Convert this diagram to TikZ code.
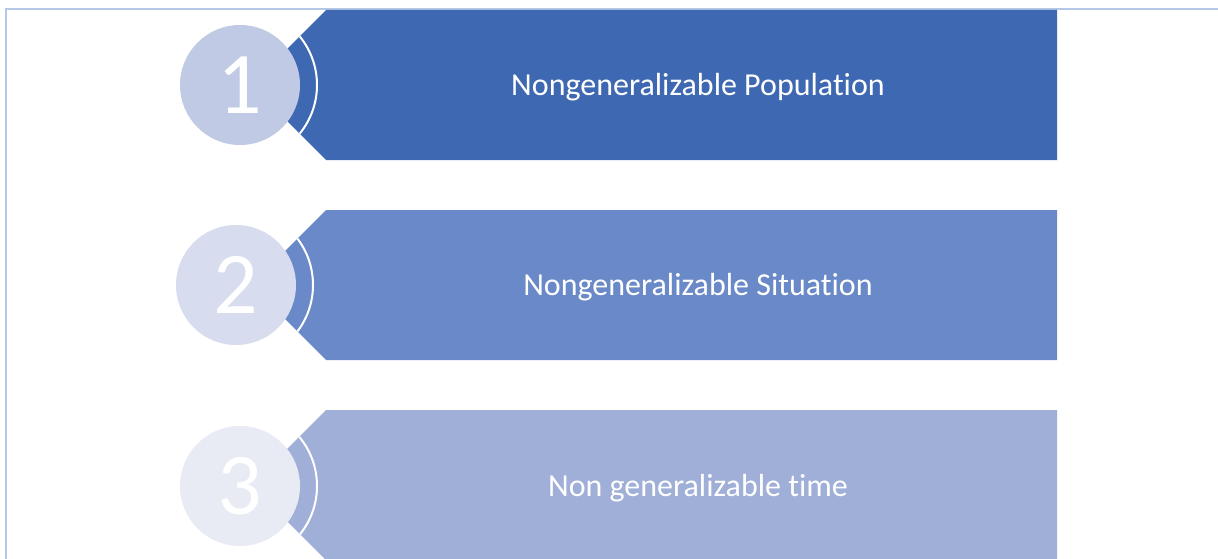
\documentclass[tikz,border=0pt]{standalone}
\usepackage{fontspec}
\setmainfont[Ligatures=NoCommon]{Carlito}
\definecolor{frameblue}{HTML}{B4C7E7}
\definecolor{barA}{HTML}{3E68B1}
\definecolor{barB}{HTML}{6A89C8}
\definecolor{barC}{HTML}{A0AFD8}
\definecolor{circA}{HTML}{C0CAE4}
\definecolor{circB}{HTML}{D7DCEE}
\definecolor{circC}{HTML}{E8EAF4}
\tikzset{
  numcirc/.style={circle, minimum size=120pt, inner sep=0pt, text=white, font=\fontsize{88}{88}\selectfont},
  bartext/.style={text=white, font=\fontsize{32}{38}\selectfont},
  ring/.style={draw=white, line width=2pt},
}
\begin{document}
\begin{tikzpicture}[x=1pt,y=-1pt]
\useasboundingbox (0,0) rectangle (1218,559);
\fill[white] (0,0) rectangle (1218,559);
\draw[frameblue, line width=2.5pt] (6,559) -- (6,9) -- (1218,9);
% row 1
\fill[barA] (326,10) -- (1057,10) -- (1057,160) -- (326,160) -- (251,85) -- cycle;
\begin{scope}
\clip (326,10) -- (1057,10) -- (1057,160) -- (326,160) -- (251,85) -- cycle;
\draw[ring] (240,85) circle[radius=77];
\end{scope}
\node[numcirc, fill=circA] (c1) at (240,85) {1};
\node[bartext] (t1) at (698,87) {Nongeneralizable Population};
% row 2
\fill[barB] (326,210) -- (1057,210) -- (1057,360) -- (326,360) -- (251,285) -- cycle;
\begin{scope}
\clip (326,210) -- (1057,210) -- (1057,360) -- (326,360) -- (251,285) -- cycle;
\draw[ring] (236,285) circle[radius=77];
\end{scope}
\node[numcirc, fill=circB] (c2) at (236,285) {2};
\node[bartext] (t2) at (698,287) {Nongeneralizable Situation};
% row 3
\fill[barC] (326,410) -- (1057,410) -- (1057,560) -- (326,560) -- (251,485) -- cycle;
\begin{scope}
\clip (326,410) -- (1057,410) -- (1057,560) -- (326,560) -- (251,485) -- cycle;
\draw[ring] (240,486) circle[radius=77];
\end{scope}
\node[numcirc, fill=circC] (c3) at (240,486) {3};
\node[bartext] (t3) at (698,488) {Non generalizable time};
\end{tikzpicture}
\end{document}
